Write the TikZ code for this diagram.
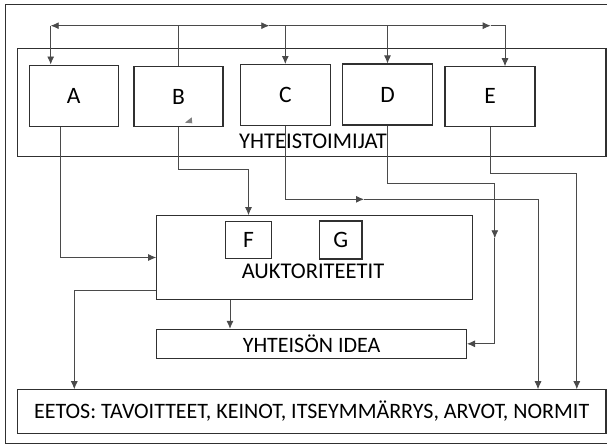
\documentclass[tikz,border=0pt]{standalone}
\usepackage{fontspec}
\setmainfont{Carlito}
\usetikzlibrary{arrows.meta}
\definecolor{linegray}{HTML}{4A4A4A}
\definecolor{boxgray}{HTML}{303030}
\begin{document}
\begin{tikzpicture}[x=1pt,y=-1pt,
    box/.style={draw=boxgray,line width=1.1pt,inner sep=0pt,font=\fontsize{23.5}{26}\selectfont},
    boxlab/.style={font=\fontsize{22.5}{26}\selectfont,inner sep=0pt},
    conn/.style={draw=linegray,line width=0.8pt},
    tip/.style={-{Latex[length=8pt,width=7pt]}}]
  \clip (0,0) rectangle (607,447);
  % outer frame
  \draw[draw=boxgray,line width=1pt] (5.8,4) rectangle (615,443.5);
  % yhteistoimijat
  \node[box,minimum width=588.6pt,minimum height=108.2pt] (yt) at (311.7,102.4) {};
  \node[boxlab] (ytlab) at (313,141) {YHTEISTOIMIJAT};
  \node[box,minimum width=89.3pt,minimum height=61.5pt] (A) at (73.7,95.8) {A};
  \node[box,minimum width=89pt,minimum height=60pt] (B) at (178.5,96.6) {B};
  \node[box,minimum width=89.5pt,minimum height=60.5pt] (C) at (285.3,94.8) {C};
  \node[box,minimum width=89.7pt,minimum height=61pt] (D) at (387.5,94.5) {D};
  \node[box,minimum width=90pt,minimum height=59.3pt] (E) at (490,96.4) {E};
  \fill[gray] (185,122.7) -- (191.7,117.3) -- (192.3,123.3) -- cycle;
  % auktoriteetit
  \node[box,minimum width=315.5pt,minimum height=83.6pt] (au) at (314.5,257.5) {};
  \node[boxlab] (aulab) at (313,271) {AUKTORITEETIT};
  \node[box,minimum width=46.5pt,minimum height=37.3pt] (F) at (248.5,239.7) {F};
  \node[box,minimum width=42.6pt,minimum height=38pt] (G) at (340.7,240) {G};
  % lower boxes
  \node[box,minimum width=309.7pt,minimum height=29pt,font=\fontsize{22}{26}\selectfont] (yi) at (311.6,343.8) {YHTEISÖN IDEA};
  \node[box,minimum width=588.6pt,minimum height=43.5pt,font=\fontsize{22}{26}\selectfont] (ee) at (311.7,411.5)
    {EETOS: TAVOITTEET, KEINOT, ITSEYMMÄRRYS, ARVOT, NORMIT};
  % columns and corners
  \coordinate (top) at (0,25.7);
  \coordinate (tA) at (50.7,25.7);
  \coordinate (mC) at (269.3,25.7);
  \coordinate (mE) at (490.7,25.7);
  \coordinate (tE) at (505,25.7);
  \coordinate (xA) at (60,0);
  \coordinate (cM) at (364,199.3);
  \coordinate (xC) at (538,0);
  \coordinate (dM) at (494.8,238.3);
  \coordinate (xE) at (576.8,0);
  \coordinate (xL) at (74.3,0);
  \coordinate (xI) at (230,0);
  % top bus
  \draw[conn] (B.north) -- (B.north |- top);
  \draw[conn,tip] (B.north |- top) -- (tA);
  \draw[conn,tip] (tA) -- (tA |- A.north);
  \draw[conn,tip] (B.north |- top) -- (mC);
  \draw[conn,tip] (mC) -| (C.north);
  \draw[conn,tip] (C.north |- top) -| (D.north);
  \draw[conn,line width=1.2pt] (369,25.7) -- (D.north |- top);
  \draw[conn,tip] (D.north |- top) -- (mE);
  \draw[conn,tip] (mE) -- (tE) -- (tE |- E.north);
  % down to the lower boxes
  \draw[conn,tip] (xA |- A.south) |- (au.west);
  \draw[conn,tip] (B.south) -- ++(0,41.8) -| (F |- au.north);
  \draw[conn,tip] (C.south) |- (cM);
  \draw[conn,tip] (cM) -| (xC |- ee.north);
  \draw[conn,tip] (D.south) -- ++(0,58.3) -| (dM);
  \draw[conn,tip] (dM) |- (yi.east);
  \draw[conn,tip] (E.south) -- ++(0,46.7) -| (xE |- ee.north);
  \draw[conn,tip] ([yshift=-32.5pt]au.west) -| (xL |- ee.north);
  \draw[conn,tip] (xI |- au.south) -- (xI |- yi.north);
\end{tikzpicture}
\end{document}
